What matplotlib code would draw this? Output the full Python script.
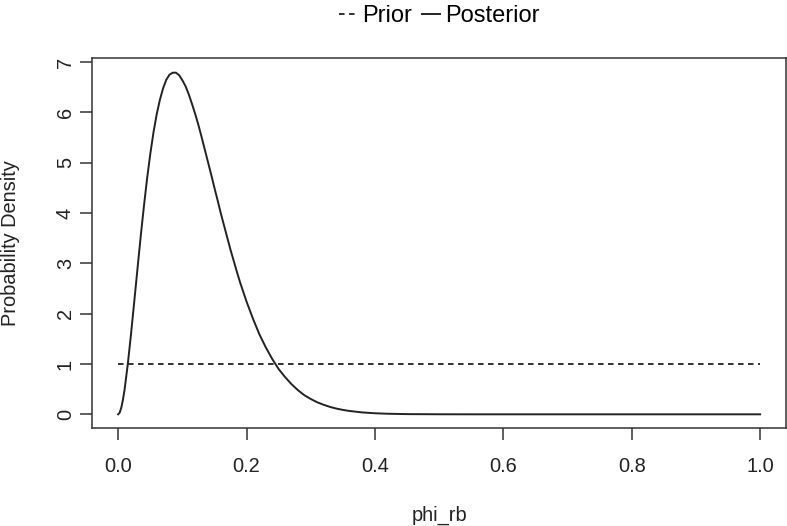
"""
    prior vs posterior density for phi_rb
"""

import numpy as np
import matplotlib
matplotlib.use("Agg")
import matplotlib.pyplot as plt

plt.rcParams['font.family'] = ['Liberation Sans', 'DejaVu Sans']
plt.rcParams['lines.scale_dashes'] = False

# posterior density
phi = [0.0, 0.0025, 0.005, 0.0075, 0.01, 0.015, 0.02, 0.025, 0.03, 0.035,
       0.04, 0.045, 0.05, 0.055, 0.06, 0.065, 0.07, 0.075, 0.08, 0.085,
       0.09, 0.095, 0.10, 0.105, 0.11, 0.115, 0.12, 0.125, 0.13, 0.135,
       0.14, 0.145, 0.15, 0.155, 0.16, 0.165, 0.17, 0.175, 0.18, 0.185,
       0.19, 0.195, 0.20, 0.21, 0.22, 0.23, 0.24, 0.25, 0.26, 0.27,
       0.28, 0.29, 0.30, 0.31, 0.32, 0.33, 0.34, 0.35, 0.36, 0.38,
       0.40, 0.42, 0.45, 0.50, 0.55, 0.60, 0.70, 0.80, 0.90, 1.0]
posterior = [0.0, 0.036, 0.137, 0.292, 0.49, 0.995, 1.59, 2.23, 2.88, 3.52,
             4.12, 4.68, 5.17, 5.60, 5.96, 6.25, 6.48, 6.65, 6.75, 6.79,
             6.79, 6.74, 6.64, 6.52, 6.36, 6.17, 5.97, 5.75, 5.51, 5.26,
             5.01, 4.76, 4.50, 4.25, 3.99, 3.75, 3.51, 3.27, 3.05, 2.83,
             2.62, 2.43, 2.24, 1.90, 1.59, 1.33, 1.10, 0.90, 0.74, 0.60,
             0.48, 0.38, 0.305, 0.24, 0.19, 0.147, 0.114, 0.088, 0.067, 0.038,
             0.021, 0.0115, 0.004, 0.001, 0.0001, 0.0, 0.0, 0.0, 0.0, 0.0]

# flat prior
prior_x = [0.0, 1.0]
prior_y = [1.0, 1.0]

xticks = [0.0, 0.2, 0.4, 0.6, 0.8, 1.0]
yticks = [0, 1, 2, 3, 4, 5, 6, 7]

fig = plt.figure(figsize=(7.87, 5.26), dpi=100)
ax = fig.add_axes([0.1175, 0.1863, 0.881, 0.7025])

ax.plot(prior_x, prior_y, color='#222222', lw=1.3, ls=(0, (4.0, 3.2)), label='Prior')
ax.plot(phi, posterior, color='#222222', lw=1.4, label='Posterior')

ax.set_xlim(-0.04, 1.04)
ax.set_ylim(-0.04 * 6.8, 6.8 * 1.04)
ax.set_xticks(xticks)
ax.set_xticklabels(['%.1f' % v for v in xticks])
ax.set_yticks(yticks)
ax.set_yticklabels([str(v) for v in yticks], rotation=90, va='center')

ax.tick_params(axis='both', labelsize=14.4, length=8.6, width=1.1,
               color='#333333', labelcolor='#222222')
ax.tick_params(axis='x', pad=12)
ax.tick_params(axis='y', pad=4)
for s in ax.spines.values():
    s.set_linewidth(1.1)
    s.set_color('#333333')

ax.set_xlabel('phi_rb', fontsize=14.4, color='#222222', labelpad=22)
ax.set_ylabel('Probability Density', fontsize=14.4, color='#222222')
ax.yaxis.set_label_coords(-0.104, 0.5)

# legend sits above the plot box, centred on it
ax.legend(loc='lower center', bbox_to_anchor=(0.5, 1.085), ncol=2, frameon=False,
          fontsize=17, handlelength=0.8, handletextpad=0.2, columnspacing=0.4,
          borderaxespad=0.0, borderpad=0.0)

fig.savefig('out.png', dpi=100)
